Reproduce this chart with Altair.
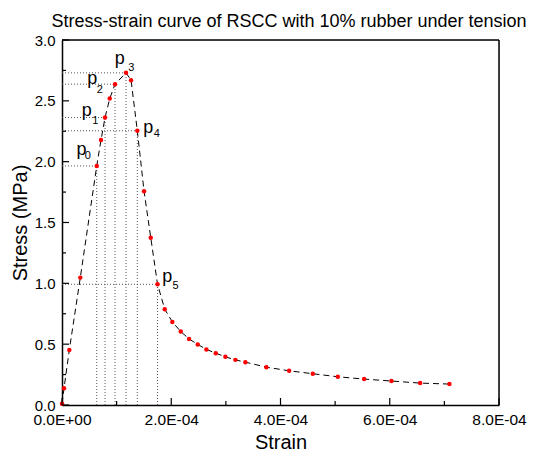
import altair as alt
import pandas as pd

# ---- data ----
strain_e4 = [0.0, 0.037, 0.134, 0.335, 0.636, 0.714, 0.788, 0.874, 0.971, 1.172,
             1.264, 1.379, 1.502, 1.625, 1.749, 1.881, 2.020, 2.174, 2.326, 2.485,
             2.643, 2.815, 2.991, 3.174, 3.357, 3.742, 4.158, 4.591, 5.049, 5.531,
             6.031, 6.557, 7.093]
stress = [0.01, 0.137, 0.453, 1.047, 1.965, 2.178, 2.363, 2.519, 2.637, 2.730,
          2.670, 2.254, 1.757, 1.375, 0.992, 0.787, 0.683, 0.604, 0.543, 0.498,
          0.457, 0.426, 0.396, 0.371, 0.352, 0.311, 0.281, 0.257, 0.232, 0.213,
          0.197, 0.180, 0.172]
key_index = [4, 6, 8, 9, 11, 14]
key_names = ["0", "1", "2", "3", "4", "5"]
x_major = [0.0, 2e-4, 4e-4, 6e-4, 8e-4]
x_minor = [1e-4, 3e-4, 5e-4, 7e-4]
y_major = [0.0, 0.5, 1.0, 1.5, 2.0, 2.5, 3.0]
y_minor = [0.25, 0.75, 1.25, 1.75, 2.25, 2.75]
title_text = "Stress-strain curve of RSCC with 10% rubber under tension"

W, H = 437, 365
FONT = "Liberation Sans"

df = pd.DataFrame({"i": range(len(stress)),
                   "strain": [s * 1e-4 for s in strain_e4],
                   "stress": stress})
keys = df.iloc[key_index].copy()
keys["name"] = key_names

xs = alt.Scale(domain=[0, 8e-4], nice=False, zero=False)
ys = alt.Scale(domain=[0, 3], nice=False, zero=False)

x_axis = alt.Axis(values=x_major, ticks=False, domain=True, domainColor="black",
                  domainWidth=1.5, grid=False,
                  labelExpr="datum.value == 0 ? '0.0E+00' : format(datum.value*1e4, '.1f') + 'E-04'",
                  labelFont=FONT, labelFontSize=15.5, labelColor="black", labelPadding=7,
                  labelFlush=False, labelOverlap=False,
                  title="Strain", titleFont=FONT, titleFontSize=20, titleFontWeight="normal",
                  titleColor="black", titleY=37, titleBaseline="middle")
y_axis = alt.Axis(values=y_major, ticks=False, domain=True, domainColor="black",
                  domainWidth=1.5, grid=False, format=".1f",
                  labelFont=FONT, labelFontSize=15, labelColor="black", labelPadding=7,
                  labelFlush=False, labelOverlap=False,
                  title="Stress (MPa)", titleFont=FONT, titleFontSize=20, titleFontWeight="normal",
                  titleColor="black", titleX=-42, titleY=H / 2, titleBaseline="middle")

base = alt.Chart(df)

# dotted guide lines
kb = alt.Chart(keys).transform_calculate(zero="0")
hlines = kb.mark_rule(color="#555", strokeDash=[1, 2], strokeWidth=1).encode(
    x=alt.X("zero:Q", scale=xs, axis=x_axis), x2="strain:Q",
    y=alt.Y("stress:Q", scale=ys, axis=y_axis))
vlines = kb.mark_rule(color="#555", strokeDash=[1, 2], strokeWidth=1).encode(
    x=alt.X("strain:Q", scale=xs), y=alt.Y("zero:Q", scale=ys), y2="stress:Q")

line = base.mark_line(color="black", strokeDash=[6, 4], strokeWidth=1).encode(
    x=alt.X("strain:Q", scale=xs), y=alt.Y("stress:Q", scale=ys), order="i:Q")
pts = base.mark_circle(color="red", size=20, opacity=1).encode(
    x=alt.X("strain:Q", scale=xs), y=alt.Y("stress:Q", scale=ys))

# inward ticks
def yticks(vals, length):
    return alt.Chart(pd.DataFrame({"v": vals})).mark_rule(color="black", strokeWidth=1.2).encode(
        y=alt.Y("v:Q", scale=ys), x=alt.value(0), x2=alt.value(length))

def xticks(vals, length):
    return alt.Chart(pd.DataFrame({"v": vals})).mark_rule(color="black", strokeWidth=1.2).encode(
        x=alt.X("v:Q", scale=xs), y=alt.value(H), y2=alt.value(H - length))

ticks = [yticks(y_major, 7), yticks(y_minor, 4), xticks(x_major, 7), xticks(x_minor, 4)]

# frame top and right
frame = [
    alt.Chart(pd.DataFrame({"v": [3.0]})).mark_rule(color="black", strokeWidth=1.5).encode(
        y=alt.Y("v:Q", scale=ys), x=alt.value(0), x2=alt.value(W)),
    alt.Chart(pd.DataFrame({"v": [8e-4]})).mark_rule(color="black", strokeWidth=1.5).encode(
        x=alt.X("v:Q", scale=xs), y=alt.value(0), y2=alt.value(H)),
]

# title as text
title = alt.Chart(pd.DataFrame({"t": [title_text]})).mark_text(
    font=FONT, fontSize=18, align="center", baseline="alphabetic", color="black").encode(
    text="t:N", x=alt.value(227), y=alt.value(-13))

# labels p with subscripts
offs = {
    "0": ((-15.2, -10.7), (-9, -6.7)),
    "1": ((-18.3, -1.7), (-9.7, 6)),
    "2": ((-22.7, 0), (-15.3, 9)),
    "3": ((-6.2, -9), (5.3, -1.7)),
    "4": ((11, 2), (19.4, 6.7)),
    "5": ((9.8, -2), (18, 4.3)),
}
labels = []
for n in key_names:
    (pdx, pdy), (sdx, sdy) = offs[n]
    kc = alt.Chart(keys).transform_filter(alt.datum.name == n)
    labels.append(kc.mark_text(text="p", font=FONT, fontSize=18, align="center",
                               baseline="alphabetic", dx=pdx, dy=pdy, color="black").encode(
        x=alt.X("strain:Q", scale=xs), y=alt.Y("stress:Q", scale=ys)))
    labels.append(kc.mark_text(font=FONT, fontSize=11, align="center",
                               baseline="alphabetic", dx=sdx, dy=sdy, color="black").encode(
        x=alt.X("strain:Q", scale=xs), y=alt.Y("stress:Q", scale=ys), text="name:N"))

chart = alt.layer(hlines, vlines, line, pts, *ticks, *frame, title, *labels).properties(
    width=W, height=H,
    autosize=alt.AutoSizeParams(type="none"),
    padding={"left": 54, "top": 32, "right": 29, "bottom": 47},
).configure_view(stroke=None).configure(background="white")

chart.save("out.html", embed_options={"renderer": "svg", "actions": False})
